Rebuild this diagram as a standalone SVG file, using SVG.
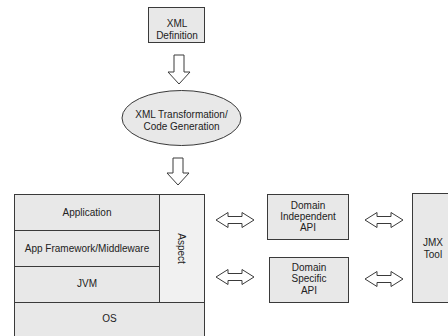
<svg xmlns="http://www.w3.org/2000/svg" width="448" height="336" viewBox="0 0 448 336">
<style>
.box{fill:#e8e8e8;stroke:#3a3a3a;stroke-width:1}
.light{fill:#f1f1f1;stroke:#3a3a3a;stroke-width:1}
.arr{fill:#ffffff;stroke:#3a3a3a;stroke-width:1;stroke-linejoin:miter}
text{font-family:"Liberation Sans",Arial,sans-serif;font-size:10px;fill:#222;text-anchor:middle}
</style>
<rect width="448" height="336" fill="#ffffff"/>
<g id="xml-definition">
<rect class="box" x="148.5" y="7.5" width="56" height="35"/>
<text x="177" y="27">XML</text>
<text x="177" y="39">Definition</text>
</g>
<g id="xml-transformation">
<ellipse class="box" cx="181.5" cy="118" rx="59.5" ry="27.5"/>
<text x="181.5" y="118">XML Transformation/</text>
<text x="181.5" y="130">Code Generation</text>
</g>
<g id="stack">
<rect class="box" x="14.5" y="194.5" width="145" height="36"/>
<rect class="box" x="14.5" y="230.5" width="145" height="36"/>
<rect class="box" x="14.5" y="266.5" width="145" height="36"/>
<rect class="light" x="159.5" y="194.5" width="45" height="108"/>
<rect class="box" x="14.5" y="302.5" width="190" height="40"/>
<text x="87" y="215.5">Application</text>
<text x="87" y="251.5">App Framework/Middleware</text>
<text x="87" y="287">JVM</text>
<text x="109.5" y="321.5">OS</text>
<text x="0" y="0" transform="translate(177.5 248.5) rotate(90)">Aspect</text>
</g>
<g id="domain-independent-api">
<rect class="box" x="267.5" y="194.5" width="81" height="45"/>
<text x="308" y="208.5">Domain</text>
<text x="308" y="219.5">Independent</text>
<text x="308" y="230.5">API</text>
</g>
<g id="domain-specific-api">
<rect class="box" x="269.5" y="257.5" width="79" height="45"/>
<text x="309" y="270.5">Domain</text>
<text x="309" y="282">Specific</text>
<text x="309" y="293.5">API</text>
</g>
<g id="jmx-tool">
<rect class="box" x="412.5" y="193.5" width="40" height="109"/>
<text x="433" y="246">JMX</text>
<text x="433" y="258">Tool</text>
</g>
<g id="connectors">
<polygon class="arr" points="174,55 184,55 184,72 190,72 179,84 168,72 174,72"/>
<polygon class="arr" points="173,158 183,158 183,173 189,173 178,185 167,173 173,173"/>
<polygon class="arr" points="216,220 228,212.5 228,216.5 242,216.5 242,212.5 254,220 242,227.5 242,223.5 228,223.5 228,227.5"/>
<polygon class="arr" points="216,277 228,269.5 228,273.5 242,273.5 242,269.5 254,277 242,284.5 242,280.5 228,280.5 228,284.5"/>
<polygon class="arr" points="365,220 377,212.5 377,216.5 391,216.5 391,212.5 403,220 391,227.5 391,223.5 377,223.5 377,227.5"/>
<polygon class="arr" points="365,279 377,271.5 377,275.5 391,275.5 391,271.5 403,279 391,286.5 391,282.5 377,282.5 377,286.5"/>
</g>
</svg>
